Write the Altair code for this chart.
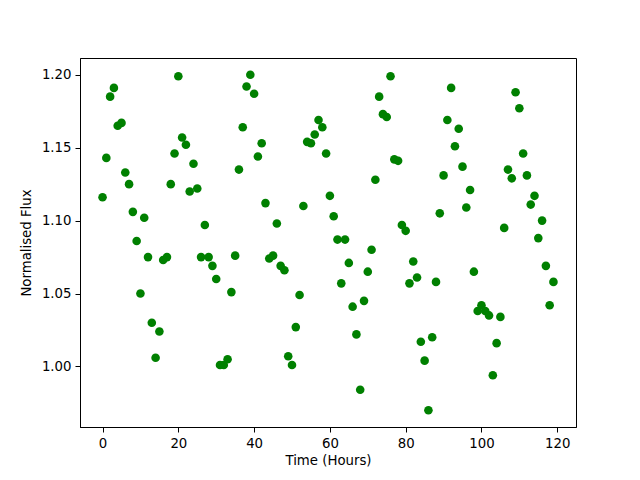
import altair as alt
import pandas as pd

hours = list(range(120))
flux = [
    1.116, 1.143, 1.185, 1.191, 1.165, 1.167, 1.133, 1.125, 1.106, 1.086,
    1.050, 1.102, 1.075, 1.030, 1.006, 1.024, 1.073, 1.075, 1.125, 1.146,
    1.199, 1.157, 1.152, 1.120, 1.139, 1.122, 1.075, 1.097, 1.075, 1.069,
    1.060, 1.001, 1.001, 1.005, 1.051, 1.076, 1.135, 1.164, 1.192, 1.200,
    1.187, 1.144, 1.153, 1.112, 1.074, 1.076, 1.098, 1.069, 1.066, 1.007,
    1.001, 1.027, 1.049, 1.110, 1.154, 1.153, 1.159, 1.169, 1.164, 1.146,
    1.117, 1.103, 1.087, 1.057, 1.087, 1.071, 1.041, 1.022, 0.984, 1.045,
    1.065, 1.080, 1.128, 1.185, 1.173, 1.171, 1.199, 1.142, 1.141, 1.097,
    1.093, 1.057, 1.072, 1.061, 1.017, 1.004, 0.970, 1.020, 1.058, 1.105,
    1.131, 1.169, 1.191, 1.151, 1.163, 1.137, 1.109, 1.121, 1.065, 1.038,
    1.042, 1.038, 1.035, 0.994, 1.016, 1.034, 1.095, 1.135, 1.129, 1.188,
    1.177, 1.146, 1.131, 1.111, 1.117, 1.088, 1.100, 1.069, 1.042, 1.058,
]
x_ticks = [0, 20, 40, 60, 80, 100, 120]
y_ticks = [1.00, 1.05, 1.10, 1.15, 1.20]

df = pd.DataFrame({"Time": hours, "Flux": flux})

font = "DejaVu Sans"
axis_common = dict(
    labelFont=font, labelFontSize=13.3, labelColor="black",
    titleFont=font, titleFontSize=13.3, titleColor="black", titleFontWeight="normal",
    domainColor="black", tickColor="black", tickSize=5, labelPadding=4,
    grid=False,
)

chart = alt.Chart(df).mark_circle(size=74, color="#008000", opacity=1).encode(
    x=alt.X("Time:Q", title="Time (Hours)",
            scale=alt.Scale(domain=[-5.95, 124.95], nice=False, zero=False),
            axis=alt.Axis(values=x_ticks, format="d", titlePadding=4, **axis_common)),
    y=alt.Y("Flux:Q", title="Normalised Flux",
            scale=alt.Scale(domain=[0.9585, 1.2115], nice=False, zero=False),
            axis=alt.Axis(values=y_ticks, format=".2f", titlePadding=8, **axis_common)),
).properties(
    width=496, height=369,
    autosize=alt.AutoSizeParams(type="none"),
    padding={"left": 72, "top": 50, "right": 56, "bottom": 40},
).configure_view(stroke="black", strokeWidth=1)

chart.save("out.html", embed_options={"renderer": "svg", "actions": False})
